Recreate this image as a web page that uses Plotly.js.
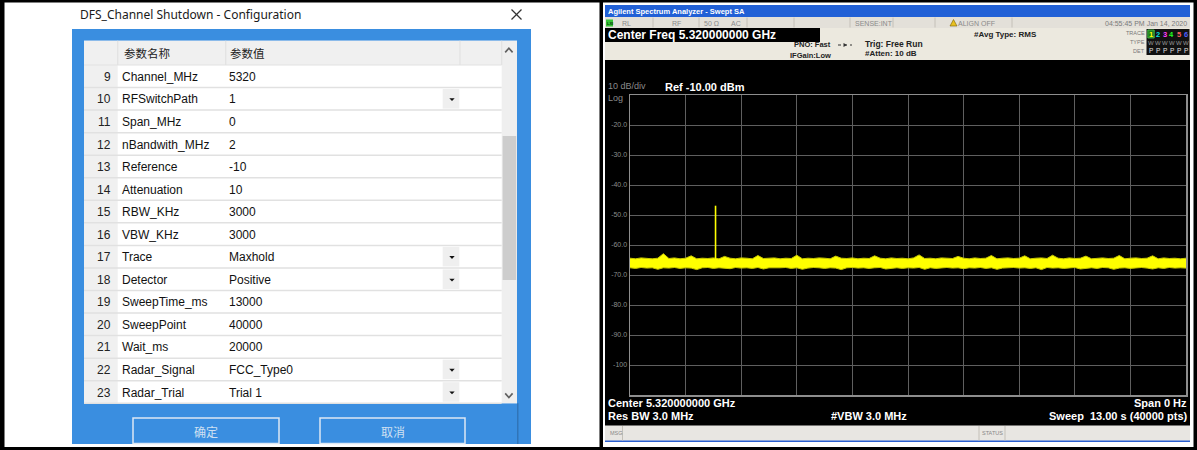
<!DOCTYPE html>
<html><head><meta charset="utf-8">
<script src="https://cdn.plot.ly/plotly-3.0.1.min.js"></script>
<style>html,body{margin:0;padding:0;background:#fff;overflow:hidden}#chart{width:1197px;height:450px}</style>
</head><body><div id="chart"></div>
<script>
// ---------- configuration table data ----------
const dialogTitle = 'DFS_Channel Shutdown - Configuration';
const headerLabels = ['参数名称', '参数值'];
const rowNumbers = [9, 10, 11, 12, 13, 14, 15, 16, 17, 18, 19, 20, 21, 22, 23];
const paramNames = ['Channel_MHz', 'RFSwitchPath', 'Span_MHz', 'nBandwith_MHz', 'Reference', 'Attenuation',
  'RBW_KHz', 'VBW_KHz', 'Trace', 'Detector', 'SweepTime_ms', 'SweepPoint', 'Wait_ms', 'Radar_Signal', 'Radar_Trial'];
const paramValues = ['5320', '1', '0', '2', '-10', '10', '3000', '3000', 'Maxhold', 'Positive', '13000', '40000',
  '20000', 'FCC_Type0', 'Trial 1'];
const hasDropdown = [false, true, false, false, false, false, false, false, true, true, false, false, false, true, true];
const buttonLabels = ['确定', '取消'];

// ---------- spectrum analyzer data ----------
const sweepTime = [0.00,0.13,0.26,0.39,0.52,0.65,0.78,0.91,1.04,1.17,
  1.30,1.43,1.56,1.69,1.82,1.95,2.08,2.21,2.34,2.47,
  2.60,2.73,2.86,2.99,3.12,3.25,3.38,3.51,3.64,3.77,
  3.90,4.03,4.16,4.29,4.42,4.55,4.68,4.81,4.94,5.07,
  5.20,5.33,5.46,5.59,5.72,5.85,5.98,6.11,6.24,6.37,
  6.50,6.63,6.76,6.89,7.02,7.15,7.28,7.41,7.54,7.67,
  7.80,7.93,8.06,8.19,8.32,8.45,8.58,8.71,8.84,8.97,
  9.10,9.23,9.36,9.49,9.62,9.75,9.88,10.01,10.14,10.27,
  10.40,10.53,10.66,10.79,10.92,11.05,11.18,11.31,11.44,11.57,
  11.70,11.83,11.96,12.09,12.22,12.35,12.48,12.61,12.74,12.87,
  13.00];
const noiseMax = [-64.4,-64.6,-64.3,-64.5,-64.6,-64.4,-62.9,-64.5,-64.3,-64.6,
  -64.4,-63.6,-64.6,-64.4,-64.5,-64.3,-64.6,-63.8,-64.4,-64.6,
  -64.3,-64.4,-64.6,-63.5,-64.5,-64.4,-64.3,-64.6,-64.4,-64.5,
  -63.4,-64.6,-64.4,-64.5,-64.3,-64.4,-64.6,-63.7,-64.4,-64.5,
  -64.3,-64.6,-64.4,-64.5,-63.6,-64.4,-64.6,-64.3,-64.5,-64.4,
  -64.6,-64.3,-63.3,-64.5,-64.4,-64.6,-64.3,-64.4,-64.5,-63.8,
  -64.4,-64.6,-64.3,-64.5,-64.4,-63.5,-64.6,-64.4,-64.3,-64.5,
  -64.4,-63.6,-64.6,-64.4,-64.3,-64.5,-63.4,-64.4,-64.6,-64.3,
  -64.5,-64.4,-63.7,-64.6,-64.4,-64.3,-64.5,-64.4,-63.5,-64.6,
  -64.4,-64.3,-64.5,-64.4,-63.6,-64.6,-64.3,-64.5,-64.4,-64.6,
  -64.4];
const noiseMin = [-67.6,-67.8,-67.5,-67.7,-67.6,-68.1,-67.6,-67.7,-67.5,-67.8,
  -67.6,-67.7,-68.2,-67.6,-67.5,-67.8,-67.6,-67.7,-67.9,-67.5,
  -67.7,-67.6,-67.8,-67.5,-68.0,-67.6,-67.7,-67.6,-67.5,-67.8,
  -67.6,-68.1,-67.7,-67.5,-67.6,-67.8,-67.6,-67.7,-68.2,-67.6,
  -67.5,-67.7,-67.6,-67.8,-67.6,-67.5,-68.0,-67.7,-67.6,-67.8,
  -67.6,-67.7,-67.5,-68.1,-67.6,-67.8,-67.6,-67.5,-67.7,-67.6,
  -67.9,-67.6,-67.7,-67.5,-67.8,-67.6,-68.1,-67.7,-67.6,-67.5,
  -67.7,-67.6,-67.8,-67.6,-68.2,-67.5,-67.7,-67.6,-67.8,-67.6,
  -67.5,-68.0,-67.7,-67.6,-67.8,-67.5,-67.6,-68.1,-67.7,-67.6,
  -67.8,-67.6,-67.5,-67.7,-68.0,-67.6,-67.8,-67.5,-67.7,-67.6,
  -67.7];
const pulseTime = 2.0;      // s
const pulseBase = -65.0;    // dBm
const pulsePeak = -46.9;    // dBm
const yTickVals = [-20, -30, -40, -50, -60, -70, -80, -90, -100];
const yTickText = ['-20.0', '-30.0', '-40.0', '-50.0', '-60.0', '-70.0', '-80.0', '-90.0', '-100'];
const sweepSpan = 13.0;     // s
const refLevel = -10, bottomLevel = -110;

const analyzerTitle = 'Agilent Spectrum Analyzer - Swept SA';
const centerFreqText = 'Center Freq 5.320000000 GHz';
const statusItems = [['RL', 622], ['RF', 672], ['50 Ω', 704], ['AC', 731], ['SENSE:INT', 855], ['ALIGN OFF', 958]];
const statusDate = '04:55:45 PM Jan 14, 2020';
const traceColors = ['#ffff00', '#00e0e0', '#ff40ff', '#20ff20', '#ff6060', '#5060ff'];

// ---------- helpers ----------
const W = 1197, H = 450;
const X = p => p / W, Y = p => 1 - p / H;
const shapes = [], annotations = [];
function rect(x0, y0, x1, y1, fill, lc, lw, layer) {
  shapes.push({type: 'rect', xref: 'paper', yref: 'paper', x0: X(x0), x1: X(x1), y0: Y(y1), y1: Y(y0),
    fillcolor: fill, line: {color: lc || 'rgba(0,0,0,0)', width: lc ? lw : 0}, layer: layer || 'below'});
}
function seg(x0, y0, x1, y1, color, w, dash) {
  shapes.push({type: 'line', xref: 'paper', yref: 'paper', x0: X(x0), y0: Y(y0), x1: X(x1), y1: Y(y1),
    line: {color: color, width: w, dash: dash || 'solid'}, layer: 'above'});
}
function poly(pts, fill, lc, lw) {
  const d = pts.map((p, i) => (i ? 'L' : 'M') + X(p[0]) + ',' + Y(p[1])).join(' ') + (fill ? ' Z' : '');
  shapes.push({type: 'path', xref: 'paper', yref: 'paper', path: d, fillcolor: fill || 'rgba(0,0,0,0)',
    line: {color: lc || 'rgba(0,0,0,0)', width: lc ? lw : 0}, layer: 'above'});
}
function txt(t, x, y, o) {
  o = o || {};
  annotations.push({text: t, xref: 'paper', yref: 'paper', x: X(x), y: Y(y), xanchor: o.anchor || 'left',
    yanchor: 'middle', showarrow: false, borderpad: 0, borderwidth: 0,
    font: {family: o.family || 'Liberation Sans, Arial, sans-serif', size: o.size || 12, color: o.color || '#000'}});
}

// ---------- outer frame ----------
rect(0, 0, 1197, 450, '#ffffff');
rect(0, 0, 1197, 2.5, '#000');
rect(0, 447, 1197, 450, '#000');
rect(0, 0, 4.5, 450, '#000');
rect(599.5, 0, 603, 450, '#000');
rect(1193.5, 0, 1197, 450, '#000');

// ---------- left: configuration dialog ----------
const BLUE = '#3a8ee0';
txt(dialogTitle, 80, 15, {family: 'Noto Sans, sans-serif', size: 12, color: '#1a1a1a'});
seg(511.5, 9.5, 521.5, 19.5, '#333', 1.2);
seg(511.5, 19.5, 521.5, 9.5, '#333', 1.2);
rect(72, 29, 531, 444, BLUE);
const tL = 84, tR = 501.7, sbR = 517, hTop = 40.7, hBot = 65, rowH = 22.55;
const colNum = 117.7, colName = 225.7, colDrop = 460;
const tBot = hBot + rowH * rowNumbers.length;
rect(tL, hTop, sbR, tBot, '#ffffff');
rect(tL, hTop, tR, hBot, '#f0f0f0');
rect(tL, hBot, colNum, tBot, '#f0f0f0');
// scrollbar
rect(tR, hTop, sbR, tBot, '#efefef');
rect(502.6, 136, 516.2, 280, '#cdcdcd');
poly([[505.2, 52.4], [508.9, 48.2], [512.6, 52.4]], null, '#606060', 1.6);
poly([[505.2, 393.4], [508.9, 397.6], [512.6, 393.4]], null, '#606060', 1.6);
seg(sbR + 0.8, tBot, sbR + 0.8, 444, '#2f6fae', 1.2);
// header separators
seg(colNum, hTop, colNum, hBot, '#e2e2e2', 1.2);
seg(colName, hTop, colName, hBot, '#e2e2e2', 1.2);
seg(colDrop, hTop, colDrop, hBot, '#e2e2e2', 1.2);
seg(tR, hTop, tR, hBot, '#e2e2e2', 1.2);
txt(headerLabels[0], 123.5, 53, {family: 'Noto Sans CJK SC', size: 11.5, color: '#222'});
txt(headerLabels[1], 229.5, 53, {family: 'Noto Sans CJK SC', size: 11.5, color: '#222'});
rowNumbers.forEach((n, i) => {
  const top = hBot + rowH * i, mid = top + rowH / 2 + 0.6;
  seg(tL, top + rowH, tR, top + rowH, '#e1e1e1', 1.5);
  txt(String(n), 111, mid, {anchor: 'right', size: 12, color: '#222'});
  txt(paramNames[i], 122, mid, {size: 12, color: '#111'});
  txt(paramValues[i], 229, mid, {size: 12, color: '#111'});
  if (hasDropdown[i]) {
    rect(442.7, top + 1.5, 459.3, top + rowH - 1.5, '#efefef', null, 0, 'above');
    poly([[449.3, mid - 1.2], [454.7, mid - 1.2], [452, mid + 1.6]], '#111');
  }
});
seg(tL, hBot, tR, hBot, '#e1e1e1', 1.2);
// buttons
[[133, 279], [320, 465]].forEach((b, i) => {
  rect(b[0], 418, b[1], 443.5, BLUE, '#dde8f4', 1.5, 'above');
  txt(buttonLabels[i], (b[0] + b[1]) / 2, 431, {anchor: 'center', family: 'Noto Sans CJK SC', size: 12, color: '#cfe0f2'});
});

// ---------- right: spectrum analyzer screen ----------
const aL = 605, aR = 1190;
rect(aL, 5, aR, 17, '#2160d6');
txt('<b>' + analyzerTitle + '</b>', 608, 11.3, {size: 7.5, color: '#ffffff'});
rect(aL, 17, aR, 28, '#e3e0d9');
rect(606, 19.5, 613, 26.5, '#35c435');
txt('<b>LXI</b>', 609.5, 23, {anchor: 'center', size: 4, color: '#0a3a0a'});
[653, 699, 747, 794, 850, 893, 935, 1012].forEach(x => seg(x, 17.5, x, 27.5, '#c4c0b8', 1));
statusItems.forEach(s => txt(s[0], s[1], 23, {size: 7, color: '#8a8a8a'}));
poly([[950, 26], [957, 26], [953.5, 19.5]], '#e8c020', '#7a6000', 0.6);
txt(statusDate, 1187, 23, {anchor: 'right', size: 7, color: '#7a7a7a'});
rect(aL, 28, aR, 60, '#ece9df');
rect(aL, 28, 820, 42, '#000');
txt('<b>' + centerFreqText + '</b>', 608, 35.2, {size: 12, color: '#ffffff'});
txt('<b>PNO: Fast</b>', 794, 45, {size: 7.5, color: '#222'});
txt('<b>IFGain:Low</b>', 790, 55, {size: 7.5, color: '#222'});
seg(838, 45, 852, 45, '#333', 1, 'dot');
poly([[843.5, 43], [847, 45], [843.5, 47]], '#333');
txt('<b>Trig: Free Run</b>', 865, 43.5, {size: 8.5, color: '#222'});
txt('<b>#Atten: 10 dB</b>', 865, 53.5, {size: 8, color: '#222'});
txt('<b>#Avg Type: RMS</b>', 974, 34, {size: 8, color: '#222'});
txt('TRACE', 1145, 33.5, {anchor: 'right', size: 5.5, color: '#777'});
txt('TYPE', 1145, 42, {anchor: 'right', size: 5.5, color: '#777'});
txt('DET', 1145, 50.5, {anchor: 'right', size: 5.5, color: '#777'});
rect(1146.5, 29, 1189.5, 55, '#111');
rect(1147.8, 30, 1154.2, 38, '#1e7a1e', '#4fd04f', 0.8, 'above');
traceColors.forEach((c, i) => {
  const x = 1151 + i * 6.9;
  txt('<b>' + (i + 1) + '</b>', x, 34.2, {anchor: 'center', size: 7.5, color: c});
  txt('W', x, 42.5, {anchor: 'center', size: 6, color: '#9a9a9a'});
  txt('P', x, 50.5, {anchor: 'center', size: 6.5, color: '#e0e0e0'});
});
rect(aL, 60, aR, 442, '#000');
txt('10 dB/div', 607.5, 86.3, {size: 9, color: '#8a8a8a'});
txt('Log', 607.5, 98, {size: 9, color: '#8a8a8a'});
txt('<b>Ref -10.00 dBm</b>', 665, 87, {size: 11, color: '#ffffff'});
txt('<b>Center 5.320000000 GHz</b>', 608, 403, {size: 11, color: '#ffffff'});
txt('<b>Res BW 3.0 MHz</b>', 608, 416, {size: 11, color: '#ffffff'});
txt('<b>#VBW 3.0 MHz</b>', 831, 416, {size: 11, color: '#ffffff'});
txt('<b>Span 0 Hz</b>', 1187, 403, {anchor: 'right', size: 11, color: '#ffffff'});
txt('<b>Sweep  13.00 s (40000 pts)</b>', 1187.5, 416, {anchor: 'right', size: 11, color: '#ffffff'});
rect(aL, 425.5, aR, 441, '#e8e6e2');
seg(aL, 441.3, aR, 441.3, '#2a5fd0', 1.5);
seg(622.5, 426, 622.5, 440.5, '#c4c0b8', 1);
seg(979, 426, 979, 440.5, '#c4c0b8', 1);
seg(1005, 426, 1005, 440.5, '#c4c0b8', 1);
txt('MSG', 610, 433, {size: 5.5, color: '#888'});
txt('STATUS', 992, 433, {anchor: 'center', size: 5.5, color: '#888'});

// ---------- traces ----------
const traces = [
  {x: sweepTime, y: noiseMin, type: 'scatter', mode: 'lines', line: {color: '#c8c800', width: 1}, hoverinfo: 'skip'},
  {x: sweepTime, y: noiseMax, type: 'scatter', mode: 'lines', fill: 'tonexty', fillcolor: '#ffff00',
    line: {color: '#c8c800', width: 1}, hoverinfo: 'skip'},
  {x: [pulseTime, pulseTime], y: [pulseBase, pulsePeak], type: 'scatter', mode: 'lines',
    line: {color: '#ffff00', width: 1.6}, hoverinfo: 'skip'}
];

const layout = {
  width: W, height: H, margin: {l: 0, r: 0, t: 0, b: 0}, showlegend: false,
  paper_bgcolor: '#ffffff', plot_bgcolor: '#000000',
  xaxis: {domain: [X(630), X(1186)], range: [0, sweepSpan], tick0: 0, dtick: sweepSpan / 10, showticklabels: false,
    ticks: '', showgrid: true, gridcolor: '#5f5f5f', gridwidth: 1, zeroline: false, showline: true,
    linecolor: '#8e8e8e', linewidth: 1.5, mirror: true, fixedrange: true},
  yaxis: {domain: [Y(395), Y(95)], range: [bottomLevel, refLevel], tickmode: 'array', tickvals: yTickVals,
    ticktext: yTickText, ticks: '', showgrid: true, gridcolor: '#5f5f5f', gridwidth: 1, zeroline: false,
    showline: true, linecolor: '#8e8e8e', linewidth: 1.5, mirror: true, fixedrange: true,
    tickfont: {family: 'Liberation Sans, Arial, sans-serif', size: 7, color: '#8c8c8c'}},
  shapes: shapes, annotations: annotations
};
Plotly.newPlot('chart', traces, layout, {staticPlot: true, displayModeBar: false});
</script></body></html>
